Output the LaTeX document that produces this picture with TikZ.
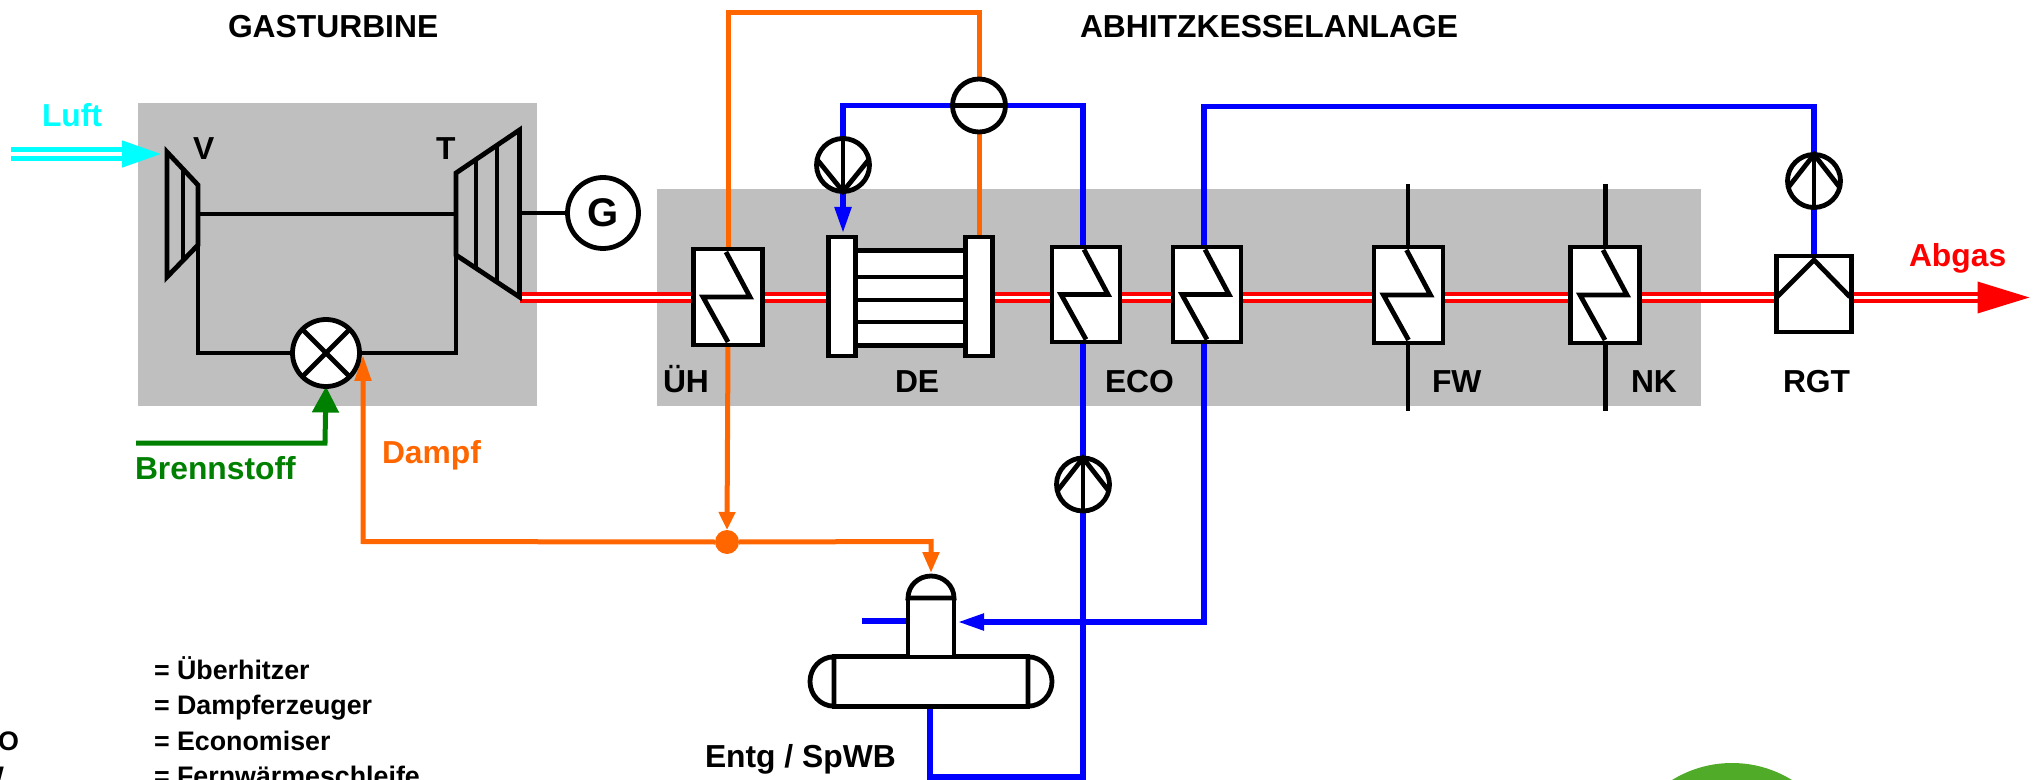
\documentclass[tikz,border=0pt]{standalone}
\usepackage{fontspec}
\setmainfont{Liberation Sans}
\usetikzlibrary{arrows.meta}
\pgfdeclarelayer{grayl}
\pgfdeclarelayer{pipes}
\pgfsetlayers{grayl,pipes,main}
\definecolor{panelgray}{HTML}{BFBFBF}
\definecolor{steam}{HTML}{FF6600}
\definecolor{water}{HTML}{0000FF}
\definecolor{fuel}{HTML}{008000}
\definecolor{airc}{HTML}{00FFFF}
\definecolor{flue}{HTML}{FF0000}
\definecolor{logogreen}{HTML}{4FAB28}
\tikzset{
  blk/.style={draw=black,line width=2.4pt},
  unit/.style={blk,fill=white,rectangle,inner sep=0pt,outer sep=0pt},
  roundunit/.style={blk,fill=white,circle,inner sep=0pt,outer sep=0pt,minimum size=#1},
  steampipe/.style={draw=steam,line width=2.5pt},
  waterpipe/.style={draw=water,line width=2.6pt},
  lab/.style={inner sep=0pt,outer sep=0pt,anchor=base west,font=\fontsize{15.9pt}{18pt}\selectfont\bfseries},
  leg/.style={inner sep=0pt,outer sep=0pt,anchor=base west,font=\fontsize{13.4pt}{16pt}\selectfont\bfseries},
  pics/zsym/.style={code={\draw[blk] (-2,-45) -- (22,0) -- (-25,0) -- (0,45);}},
}
\begin{document}
\begin{tikzpicture}[x=0.5pt,y=-0.5pt]
\useasboundingbox (0,0) rectangle (2039,780);
\clip (0,0) rectangle (2039,780);

% gray panels
\begin{pgfonlayer}{grayl}
\fill[panelgray] (138,103) rectangle (537,406);
\fill[panelgray] (657,189) rectangle (1701,406);
\fill[logogreen] (1732,877) circle[radius=57pt];
\end{pgfonlayer}

% compressor and turbine
\coordinate (Vbr) at (198,245);
\coordinate (Vtr) at (198,214);
\coordinate (Tbl) at (456,255);
\coordinate (Ttl) at (456,214);
\coordinate (Ttr) at (519.5,213);
\coordinate (Tex) at (519.5,297.5);
\draw[blk,line join=miter] (167,152) -- (198,185) -- (198,245) -- (167,277) -- cycle;
\draw[blk] (183,169) -- (183,260);
\draw[blk,line join=miter] (456,173) -- (519.5,130) -- (519.5,297) -- (456,255) -- cycle;
\draw[blk] (476,159.5) -- (476,268);
\draw[blk] (497,145) -- (497,282);

\node[roundunit=35.5pt,font=\fontsize{20pt}{22pt}\selectfont\bfseries] (G) at (603,213) {G};
\node[roundunit=33.5pt] (B) at (326,353) {};
\draw[blk] (B.45) -- (B.225);
\draw[blk] (B.135) -- (B.-45);
\draw[blk] (Vtr) -- (Ttl);
\draw[blk] (Ttr) -- (G.west);
\draw[blk] (Vbr) |- (B.west);
\draw[blk] (Tbl) |- (B.east);

% heat exchangers
\node[unit,minimum width=34.5pt,minimum height=48pt] (UH) at (728,297) {};
\pic at (UH) {zsym};
\node[unit,minimum width=34pt,minimum height=47.5pt] (ECOa) at (1086,294.5) {};
\pic at (ECOa) {zsym};
\node[unit,minimum width=34pt,minimum height=47.5pt] (ECOb) at (1207,294.5) {};
\pic at (ECOb) {zsym};
\node[unit,minimum width=34.5pt,minimum height=48pt] (FW) at (1408.5,295) {};
\pic at (FW) {zsym};
\node[unit,minimum width=34.5pt,minimum height=48pt] (NK) at (1605,295) {};
\pic at (NK) {zsym};

% steam generator
\node[unit,minimum width=54.5pt,minimum height=47.2pt] (DEt) at (910.5,298) {};
\draw[blk] (856,277) -- (965,277);
\draw[blk] (856,300) -- (965,300);
\draw[blk] (856,322) -- (965,322);
\node[unit,minimum width=13.8pt,minimum height=59.5pt] (DEL) at (842,296.5) {};
\node[unit,minimum width=13.8pt,minimum height=59.5pt] (DER) at (979,296.5) {};

% flue gas cooler
\node[unit,minimum width=37.5pt,minimum height=38pt] (RGT) at (1814,294) {};
\draw[blk] (RGT.north) ++(0,4) coordinate (RGTa);
\draw[blk] (1777,297) -- (RGTa) -- (1850,297);

% pumps and separator
\node[roundunit=26.5pt] (Sep) at (979,105.5) {};
\draw[blk] (Sep.west) -- (Sep.east);
\node[roundunit=26.5pt] (Pa) at (843,165) {};
\draw[blk] (Pa.north) -- (Pa.south);
\draw[blk] (Pa.168) -- (Pa.south) -- (Pa.12);
\node[roundunit=26.5pt] (Pb) at (1083,484.5) {};
\draw[blk] (Pb.north) -- (Pb.south);
\draw[blk] (Pb.194) -- (Pb.north) -- (Pb.-14);
\node[roundunit=26.5pt] (Pc) at (1814,181) {};
\draw[blk] (Pc.north) -- (Pc.south);
\draw[blk] (Pc.194) -- (Pc.north) -- (Pc.-14);

% deaerator and feedwater tank
\node[unit,minimum width=97pt,minimum height=24.7pt] (Drum) at (931,681.5) {};
\draw[blk,fill=white] (Drum.north west) arc[start angle=90,end angle=270,x radius=12pt,y radius=12.35pt] -- cycle;
\draw[blk,fill=white] (Drum.north east) arc[start angle=90,end angle=-90,x radius=12pt,y radius=12.35pt] -- cycle;
\node[unit,minimum width=23pt,minimum height=29.5pt] (Dea) at (931,627.5) {};
\draw[blk,fill=white] (Dea.north west) arc[start angle=180,end angle=0,x radius=11.5pt,y radius=11pt] -- cycle;

% junction
\node[fill=steam,circle,inner sep=0pt,outer sep=0pt,minimum size=12pt] (J) at (727,542) {};

% connectors
\coordinate (steamtop) at (979,12.7);
\coordinate (dampfcorner) at (363,541.5);
\coordinate (dampfin) at (363,355);
\coordinate (domecorner) at (931,541.5);
\coordinate (domein) at (931,573);
\coordinate (ecoAtop) at (1083,247);
\coordinate (ecoAbot) at (1083,344);
\coordinate (ecoBtop) at (1204,247);
\coordinate (ecoBbot) at (1204,344);
\coordinate (blueB) at (1204,106.7);
\coordinate (blueC) at (1204,622);
\coordinate (deain) at (958,622);
\coordinate (delin) at (843,233);
\coordinate (loopR) at (1083,777);
\coordinate (loopL) at (930,777);
\coordinate (drumout) at (930,706);
\coordinate (stub) at (862,621);
\coordinate (fwt) at (1408,184);
\coordinate (fwb) at (1408,410.7);
\coordinate (nkt) at (1605.4,184);
\coordinate (nkb) at (1605.4,410.7);
\coordinate (luftstart) at (11,154);
\coordinate (lufttip) at (161,154);
\coordinate (abgastip) at (2029.5,297.5);
\coordinate (bsstart) at (136,443);
\coordinate (bscorner) at (325,443);
\begin{pgfonlayer}{pipes}
\draw[flue,line width=1.8pt,double=white,double distance=1.7pt,-{Triangle[length=26pt,width=15.5pt]}] (Tex) -- (abgastip);
\draw[airc,line width=2.3pt,double=white,double distance=2pt,-{Triangle[length=19.5pt,width=13pt]}] (luftstart) -- (lufttip);
\draw[fuel,line width=2.5pt,-{Triangle[length=13pt,width=13pt]}] (bsstart) -- (bscorner) -- (B.south);
\draw[steampipe,-{Triangle[length=13pt,width=8pt]}] (J.west) -- (dampfcorner) -- (dampfin);
\draw[steampipe,-{Triangle[length=10.5pt,width=8pt]}] (J.east) -- (domecorner) -- (domein);
\draw[steampipe,-{Triangle[length=9pt,width=8pt]}] (UH.south) -- (J.north);
\draw[steampipe] (UH.north) |- (steamtop) -- (Sep.north);
\draw[steampipe] (Sep.south) -- (DER.north);
\draw[waterpipe] (Sep.west) -| (Pa.north);
\draw[waterpipe,-{Triangle[length=13pt,width=8pt]}] (Pa.south) -- (delin);
\draw[waterpipe] (Sep.east) -| (ecoAtop);
\draw[waterpipe] (ecoAbot) -- (Pb.north);
\draw[waterpipe] (Pb.south) -- (loopR) -- (loopL) -- (drumout);
\draw[waterpipe] (ecoBtop) -- (blueB) -| (Pc.north);
\draw[waterpipe] (Pc.south) -- (RGT.north);
\draw[waterpipe,-{Triangle[length=13pt,width=8pt]}] (ecoBbot) -- (blueC) -- (deain);
\draw[waterpipe] (stub) -- (stub -| Dea.west);
\draw[blk] (fwt) -- (fwb);
\draw[blk] (nkt) -- (nkb);
\end{pgfonlayer}

% labels
\node[lab] (tGT) at (228,38) {GASTURBINE};
\node[lab] (tAB) at (1080,38) {ABHITZKESSELANLAGE};
\node[lab,text=airc] (tLuft) at (42,127) {Luft};
\node[lab] (tV) at (193,160) {V};
\node[lab] (tT) at (436,160) {T};
\node[lab,text=fuel] (tBS) at (135,479.5) {Brennstoff};
\node[lab,text=steam] (tDa) at (382,463) {Dampf};
\node[lab,text=flue] (tAb) at (1909,267) {Abgas};
\node[lab] (tUH) at (663,393) {ÜH};
\node[lab] (tDE) at (895,393) {DE};
\node[lab] (tECO) at (1105,393) {ECO};
\node[lab] (tFW) at (1432,393) {FW};
\node[lab] (tNK) at (1631,393) {NK};
\node[lab] (tRGT) at (1783,393) {RGT};
\node[lab] (tEnt) at (705,767) {Entg / SpWB};
\node[leg] (l1) at (154,679) {= Überhitzer};
\node[leg] (l2) at (154,714) {= Dampferzeuger};
\node[leg] (l3) at (154,750) {= Economiser};
\node[leg] (l4) at (154,785) {= Fernwärmeschleife};
\node[leg,anchor=base east] (l3a) at (19,750) {O};
\node[leg,anchor=base east] (l4a) at (4,785) {W};
\end{tikzpicture}
\end{document}
